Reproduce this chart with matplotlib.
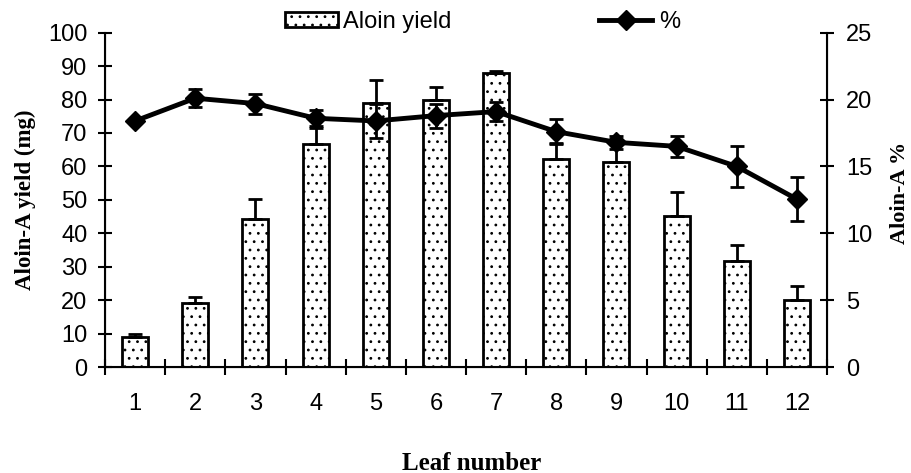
import matplotlib
matplotlib.use("Agg")
import matplotlib.pyplot as plt
import numpy as np
from matplotlib.lines import Line2D
from matplotlib.patches import Patch

leaves = [1, 2, 3, 4, 5, 6, 7, 8, 9, 10, 11, 12]
yield_mg = [8.9, 19.2, 44.2, 66.6, 79.1, 79.9, 88.0, 62.1, 61.2, 45.2, 31.8, 20.0]
yield_err = [1.0, 1.6, 6.0, 5.0, 6.7, 4.0, 0.5, 5.0, 5.5, 7.0, 4.6, 4.3]
pct = [18.4, 20.1, 19.7, 18.6, 18.4, 18.8, 19.1, 17.6, 16.8, 16.5, 15.0, 12.55]
pct_err = [0.0, 0.66, 0.75, 0.6, 1.3, 0.9, 0.7, 0.95, 0.5, 0.8, 1.55, 1.65]

plt.rcParams['font.family'] = ['Liberation Sans', 'DejaVu Sans']
plt.rcParams['hatch.linewidth'] = 0.8

fig = plt.figure(figsize=(9.11, 4.73), dpi=100)
ax = fig.add_axes([105/911, 1-367/473, (827-105)/911, (367-32.7)/473])
ax2 = ax.twinx()

x = np.arange(len(leaves))
ax.bar(x, yield_mg, width=0.43, facecolor='white', edgecolor='black',
       linewidth=2, hatch='..', zorder=2)
ax.errorbar(x, yield_mg, yerr=[np.zeros(len(x)), yield_err], fmt='none',
            ecolor='black', elinewidth=2, capsize=5, capthick=2, zorder=3)

ax2.errorbar(x, pct, yerr=pct_err, fmt='-D', color='black', lw=3.5,
             markersize=10, elinewidth=2, capsize=5, capthick=2, zorder=4)

ax.set_xlim(-0.5, len(x) - 0.5)
ax.set_ylim(0, 100)
ax2.set_ylim(0, 25)
ax.set_yticks(np.arange(0, 101, 10))
ax2.set_yticks(np.arange(0, 26, 5))
ax.set_xticks(x)
ax.set_xticklabels([str(v) for v in leaves])
ax.set_xticks(np.arange(-0.5, len(x), 1.0), minor=True)

for a in (ax, ax2):
    a.spines['top'].set_visible(False)
    a.tick_params(labelsize=17)
ax.spines['left'].set_linewidth(1.5)
ax.spines['bottom'].set_linewidth(1.5)
ax2.spines['right'].set_linewidth(1.5)
ax.tick_params(axis='y', direction='inout', length=9.5, width=1.5, pad=8)
ax2.tick_params(axis='y', direction='inout', length=9.5, width=1.5, pad=9)
ax.tick_params(axis='x', which='major', length=0, pad=19)
ax.tick_params(axis='x', which='minor', direction='inout', length=11, width=1.5)

ax.set_ylabel('Aloin-A yield (mg)', family='Liberation Serif', fontweight='bold',
              fontsize=16.5)
ax.yaxis.set_label_coords(-69/722, 0.5)
ax2.set_ylabel('Aloin-A %', family='Liberation Serif', fontweight='bold',
               fontsize=16, rotation=90)
ax2.yaxis.set_label_coords(1 + 63/722, 0.52)
fig.text((105 + 827) / 2 / 911 + 6/911, 1 - 463/473, 'Leaf number', family='Liberation Serif',
         fontweight='bold', fontsize=18, ha='center', va='center')

h1 = Patch(facecolor='white', edgecolor='black', hatch='..', linewidth=2)
h2 = Line2D([0], [0], color='black', lw=3.5, marker='D', markersize=10)
fig.legend([h1], ['Aloin yield'], loc='center left', bbox_to_anchor=(264/911, 1-22/473),
           frameon=False, fontsize=17, handlelength=2.25, handleheight=0.6, handletextpad=0.2)
fig.legend([h2], ['%'], loc='center left', bbox_to_anchor=(578/911, 1-22/473),
           frameon=False, fontsize=17, handlelength=2.25, handletextpad=0.3)

fig.savefig('out.png', dpi=100)
